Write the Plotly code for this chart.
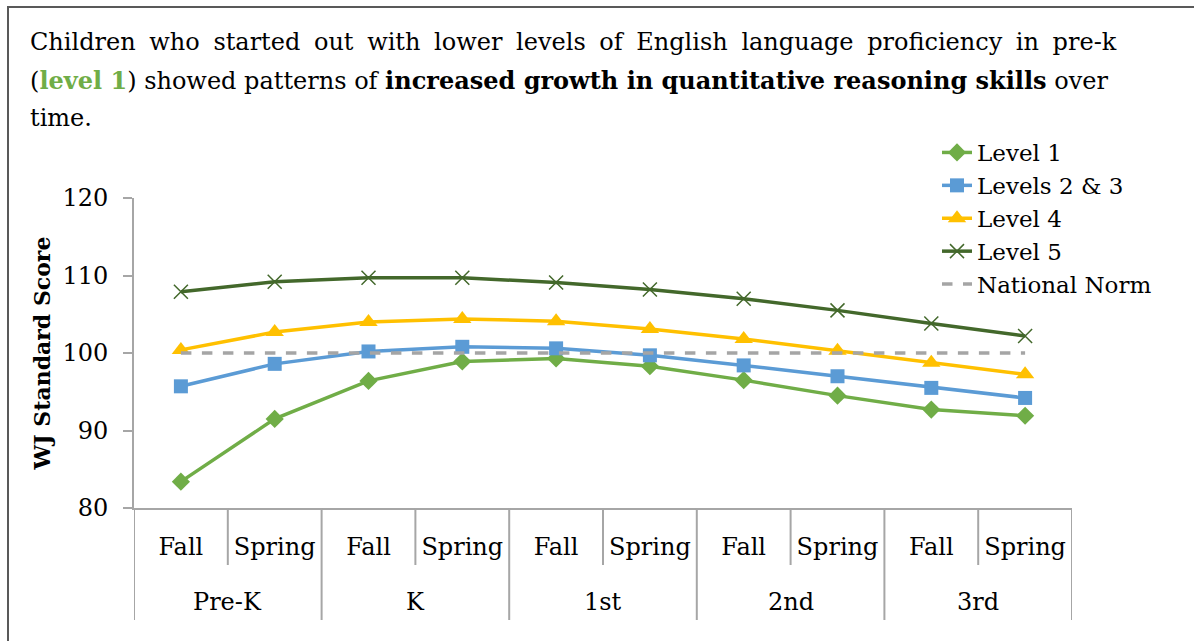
import plotly.graph_objects as go

# --- data ---
grades = ["Pre-K", "K", "1st", "2nd", "3rd"]
seasons = ["Fall", "Spring"]

level_1 = [83.4, 91.5, 96.4, 98.9, 99.3, 98.3, 96.5, 94.5, 92.7, 91.9]
levels_2_3 = [95.7, 98.6, 100.2, 100.8, 100.6, 99.7, 98.4, 97.0, 95.5, 94.2]
level_4 = [100.4, 102.7, 104.0, 104.4, 104.1, 103.1, 101.8, 100.3, 98.75, 97.25]
level_5 = [107.9, 109.2, 109.7, 109.7, 109.1, 108.2, 107.0, 105.5, 103.8, 102.2]
national_norm = [100, 100, 100, 100, 100, 100, 100, 100, 100, 100]

y_ticks = [80, 90, 100, 110, 120]

# first line is justified in the original, so pad its word gaps a little
line_1_words = ("Children who started out with lower levels of English "
                "language proficiency in pre-k").split()
title_lines = [
    " \u2005".join(line_1_words),
    "(<span style='color:#70AD47'><b>level 1</b></span>) showed patterns of "
    "<b>increased growth in quantitative reasoning skills</b> over",
    "time.",
]

FONT = "DejaVu Serif, serif"
AXIS_GREY = "#A6A6A6"

# one slot per (grade, season), in order
x_inner = [s for _ in grades for s in seasons]
x_pos = list(range(len(x_inner)))

series = [
    ("Level 1", level_1, "#70AD47", dict(symbol="diamond", size=14)),
    ("Levels 2 & 3", levels_2_3, "#5B9BD5", dict(symbol="square", size=14)),
    ("Level 4", level_4, "#FFC000", dict(symbol="triangle-up", size=16)),
    ("Level 5", level_5, "#43682B",
     dict(symbol="x-thin", size=14, line=dict(width=1.5, color="#43682B"))),
]

fig = go.Figure()

for name, vals, color, marker in series:
    fig.add_trace(
        go.Scatter(
            x=x_pos,
            y=vals,
            mode="lines+markers",
            name=name,
            line=dict(color=color, width=3.5),
            marker=dict(color=color, **marker),
        )
    )

fig.add_trace(
    go.Scatter(
        x=x_pos,
        y=national_norm,
        mode="lines",
        name="National Norm",
        line=dict(color="#A5A5A5", width=3.5, dash="dash"),
    )
)

# plot area in px: left 134, right 1072, top 198, bottom 508
PLOT_H = 310
PLOT_W = 938


def py(px_from_axis):
    """paper y for a pixel row measured from the x axis (down = negative)."""
    return px_from_axis / PLOT_H


# title, one annotation per line to keep Word-like line spacing
for i, line in enumerate(title_lines):
    fig.add_annotation(
        text=line,
        xref="paper", yref="paper",
        x=(28 - 134) / PLOT_W, xanchor="left",
        y=py(508 - (42 + 38 * i)), yanchor="middle",
        showarrow=False,
        align="left",
        font=dict(family=FONT, size=24, color="black"),
    )

# grade group labels under the season labels
for g_i, grade in enumerate(grades):
    fig.add_annotation(
        text=grade,
        xref="x", yref="paper",
        x=g_i * len(seasons) + (len(seasons) - 1) / 2,
        y=py(-94), yanchor="middle",
        showarrow=False,
        font=dict(family=FONT, size=24, color="black"),
    )

# table-like dividers below the axis
for b in range(len(x_inner) + 1):
    is_group = b % len(seasons) == 0
    fig.add_shape(
        type="line",
        xref="x", yref="paper",
        x0=b - 0.5, x1=b - 0.5,
        y0=0, y1=py(-112 if is_group else -57),
        line=dict(color=AXIS_GREY, width=2),
    )

# outer frame of the original figure box
fig.add_shape(
    type="rect",
    xref="paper", yref="paper",
    x0=(8 - 134) / PLOT_W, x1=(1400 - 134) / PLOT_W,
    y0=py(508 - 900), y1=py(508 - 7),
    line=dict(color="#595959", width=2),
    fillcolor="rgba(0,0,0,0)",
    layer="below",
)

fig.update_layout(
    width=1194,
    height=641,
    margin=dict(l=134, r=122, t=198, b=133),
    paper_bgcolor="white",
    plot_bgcolor="white",
    font=dict(family=FONT, size=24, color="black"),
    legend=dict(
        x=(937 - 134) / PLOT_W,
        xanchor="left",
        y=py(508 - 131),
        yanchor="top",
        bgcolor="rgba(0,0,0,0)",
        font=dict(family=FONT, size=23, color="black"),
        tracegroupgap=0,
    ),
    showlegend=True,
)

fig.update_yaxes(
    range=[80, 120],
    tickvals=y_ticks,
    showgrid=False,
    zeroline=False,
    showline=True,
    linecolor=AXIS_GREY,
    linewidth=2,
    ticks="outside",
    ticklen=9,
    tickwidth=2,
    tickcolor=AXIS_GREY,
    ticklabelstandoff=10,
    tickfont=dict(family=FONT, size=24, color="black"),
    title=dict(
        text="<b>WJ Standard Score</b>",
        font=dict(family=FONT, size=22, color="black"),
        standoff=6,
    ),
)

fig.update_xaxes(
    range=[-0.5, len(x_inner) - 0.5],
    tickvals=x_pos,
    ticktext=x_inner,
    showgrid=False,
    zeroline=False,
    showline=True,
    linecolor=AXIS_GREY,
    linewidth=2,
    ticks="",
    ticklabelstandoff=16,
    tickfont=dict(family=FONT, size=24, color="black"),
)

fig.write_html(
    "out.html",
    config={"displayModeBar": False},
    post_script="document.body.style.margin = '0';",
)
